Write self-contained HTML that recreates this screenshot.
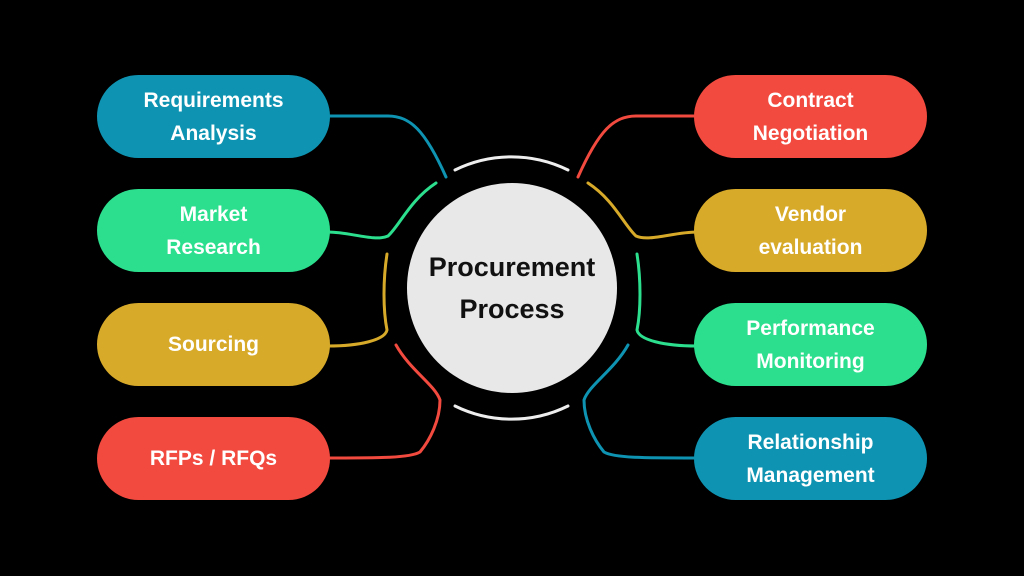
<!DOCTYPE html>
<html><head><style>
body{margin:0;background:#000;width:1024px;height:576px;overflow:hidden;position:relative;font-family:"Liberation Sans",sans-serif}
.p{position:absolute;width:233px;height:83px;border-radius:42px;display:flex;align-items:center;justify-content:center;text-align:center;color:#fff;font-weight:bold;font-size:21px;line-height:33px}
.b{background:#0e94b2}.g{background:#2cdf8e}.y{background:#d8aa2a}.r{background:#f24a3e}
svg{position:absolute;left:0;top:0}
.c{position:absolute;left:407px;top:183px;width:210px;height:210px;border-radius:50%;background:#e8e8e8;display:flex;align-items:center;justify-content:center;text-align:center;font-weight:bold;font-size:27px;line-height:42px;color:#111}
</style></head><body>
<svg width="1024" height="576" fill="none" stroke-width="3" stroke-linecap="round">
<path d="M455 170 A128 128 0 0 1 568 170" stroke="#eee"/>
<path d="M455 406 A128 128 0 0 0 568 406" stroke="#eee"/>
<path d="M327 116 L388 116 C410 116 425 130 446 177" stroke="#0e94b2"/>
<path d="M436 183 C410 200 400 225 388 236 C375 242 350 232 328 232" stroke="#2cdf8e"/>
<path d="M387 254 C383 280 383 310 387 330 C385 340 360 346 328 346" stroke="#d8aa2a"/>
<path d="M396 345 C410 370 435 385 440 400 C440 420 430 440 420 452 C410 458 380 458 328 458" stroke="#f24a3e"/>
<path d="M697 116 L636 116 C614 116 599 130 578 177" stroke="#f24a3e"/>
<path d="M588 183 C614 200 624 225 636 236 C649 242 674 232 697 232" stroke="#d8aa2a"/>
<path d="M637 254 C641 280 641 310 637 330 C639 340 664 346 697 346" stroke="#2cdf8e"/>
<path d="M628 345 C614 370 589 385 584 400 C584 420 594 440 604 452 C614 458 644 458 697 458" stroke="#0e94b2"/>
</svg>
<div class="c">Procurement<br>Process</div>
<div class="p b" style="left:97px;top:75px">Requirements<br>Analysis</div>
<div class="p g" style="left:97px;top:189px">Market<br>Research</div>
<div class="p y" style="left:97px;top:303px">Sourcing</div>
<div class="p r" style="left:97px;top:417px">RFPs / RFQs</div>
<div class="p r" style="left:694px;top:75px">Contract<br>Negotiation</div>
<div class="p y" style="left:694px;top:189px">Vendor<br>evaluation</div>
<div class="p g" style="left:694px;top:303px">Performance<br>Monitoring</div>
<div class="p b" style="left:694px;top:417px">Relationship<br>Management</div>
</body></html>
